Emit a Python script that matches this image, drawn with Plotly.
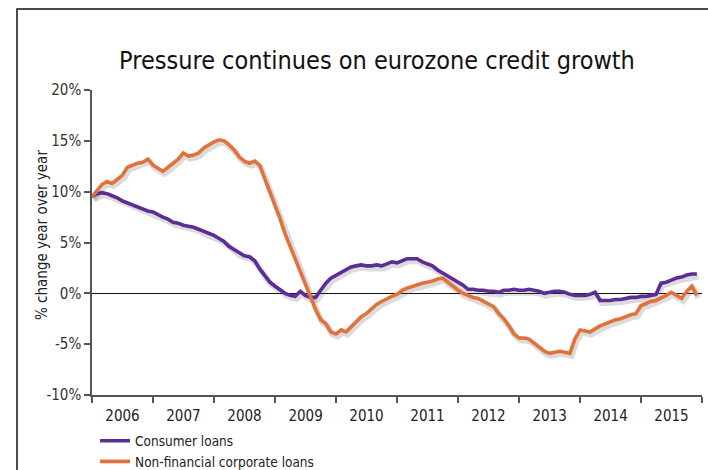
import pandas as pd
import plotly.graph_objects as go

# Monthly year-over-year growth, Jan 2006 - Dec 2015 (%)
months = pd.date_range("2006-01-01", periods=120, freq="MS")

consumer_loans = [
    9.5, 9.8, 9.9, 9.8, 9.6, 9.4, 9.1, 8.9, 8.7, 8.5, 8.3, 8.1,
    8.0, 7.7, 7.5, 7.3, 7.0, 6.9, 6.7, 6.6, 6.5, 6.3, 6.1, 5.9,
    5.7, 5.4, 5.1, 4.6, 4.3, 3.9, 3.7, 3.6, 3.2, 2.4, 1.7, 1.1,
    0.7, 0.3, 0.0, -0.2, -0.3, 0.2, -0.2, -0.4, -0.4, 0.3, 1.0, 1.5,
    1.8, 2.1, 2.3, 2.6, 2.7, 2.8, 2.7, 2.7, 2.8, 2.7, 2.9, 3.1,
    3.0, 3.2, 3.4, 3.4, 3.4, 3.1, 2.9, 2.7, 2.3, 2.0, 1.7, 1.4,
    1.1, 0.8, 0.4, 0.4, 0.3, 0.3, 0.2, 0.2, 0.1, 0.3, 0.3, 0.4,
    0.3, 0.3, 0.4, 0.3, 0.2, 0.0, 0.1, 0.2, 0.2, 0.1, -0.1, -0.2,
    -0.2, -0.2, -0.1, 0.1, -0.7, -0.7, -0.7, -0.6, -0.6, -0.5, -0.4, -0.4,
    -0.3, -0.3, -0.2, -0.1, 1.0, 1.1, 1.3, 1.5, 1.6, 1.8, 1.9, 1.9,
]

corporate_loans = [
    9.5, 10.2, 10.7, 11.0, 10.8, 11.2, 11.6, 12.4, 12.6, 12.8, 12.9, 13.2,
    12.6, 12.3, 12.0, 12.4, 12.8, 13.2, 13.8, 13.5, 13.6, 13.8, 14.3, 14.6,
    14.9, 15.1, 15.0, 14.6, 14.1, 13.4, 13.0, 12.8, 13.0, 12.6, 11.3, 9.8,
    8.6, 7.3, 5.9, 4.6, 3.4, 2.1, 0.9, -0.4, -1.6, -2.6, -3.0, -3.8,
    -4.0, -3.6, -3.8, -3.3, -2.8, -2.3, -2.0, -1.5, -1.1, -0.8, -0.5, -0.3,
    -0.1, 0.3, 0.5, 0.7, 0.8, 1.0, 1.1, 1.2, 1.4, 1.5, 1.1, 0.7,
    0.3, 0.0, -0.2, -0.4, -0.5, -0.8, -1.1, -1.3, -2.0, -2.5, -3.2, -4.0,
    -4.4, -4.4, -4.5, -4.9, -5.3, -5.7, -5.9, -5.8, -5.7, -5.8, -5.9, -4.5,
    -3.6, -3.7, -3.8, -3.5, -3.2, -3.0, -2.8, -2.6, -2.5, -2.3, -2.1, -2.0,
    -1.2, -1.0, -0.8, -0.7, -0.5, -0.2, 0.1, -0.2, -0.5, 0.2, 0.7, -0.2,
]

series_names = ["Consumer loans", "Non-financial corporate loans"]
series_colors = ["#5b2d95", "#e2723b"]

y_tickvals = [-10, -5, 0, 5, 10, 15, 20]
y_ticktext = ["-10%", "-5%", "0%", "5%", "10%", "15%", "20%"]

FONT = "DejaVu Sans Condensed, Liberation Sans Narrow, Roboto, sans-serif"

fig = go.Figure()

# soft drop shadow under each line
shadow_x = months + pd.Timedelta(days=10)
for vals in (corporate_loans, consumer_loans):
    fig.add_trace(go.Scatter(
        x=shadow_x, y=[v - 0.25 for v in vals], mode="lines",
        line=dict(color="rgba(90,90,90,0.22)", width=6),
        hoverinfo="skip", showlegend=False,
    ))

for name, vals, color in zip(series_names, [consumer_loans, corporate_loans], series_colors):
    fig.add_trace(go.Scatter(
        x=months, y=vals, mode="lines", name=name,
        line=dict(color=color, width=3.6),
    ))

fig.update_layout(
    width=708, height=470,
    margin=dict(l=92, r=6, t=90, b=75, autoexpand=False),
    paper_bgcolor="white", plot_bgcolor="white",
    font=dict(family=FONT, size=15, color="#333333"),
    title=dict(
        text="Pressure continues on eurozone credit growth",
        x=377 / 708, xanchor="center", xref="container",
        y=1 - 60 / 470, yanchor="middle", yref="container",
        font=dict(family=FONT, size=25, color="#111111"),
    ),
    showlegend=True,
    legend=dict(
        x=0.005, xanchor="left", y=-0.10, yanchor="top",
        font=dict(family=FONT, size=13.5, color="#222222"),
        itemwidth=30, tracegroupgap=0, bgcolor="rgba(0,0,0,0)",
    ),
    xaxis=dict(
        type="date",
        range=["2006-01-01", "2016-01-01"],
        tick0="2006-01-01", dtick="M12", tickformat="%Y",
        ticklabelmode="period",
        ticks="outside", ticklen=6, tickwidth=1.5, tickcolor="#555555",
        showline=True, linecolor="#555555", linewidth=1.5,
        showgrid=False, zeroline=False,
        tickfont=dict(family=FONT, size=15, color="#222222"),
    ),
    yaxis=dict(
        range=[-10, 20], tickvals=y_tickvals, ticktext=y_ticktext,
        ticks="outside", ticklen=6, tickwidth=1.5, tickcolor="#555555",
        showline=True, linecolor="#555555", linewidth=1.5,
        showgrid=False,
        zeroline=True, zerolinecolor="#111111", zerolinewidth=1,
        tickfont=dict(family=FONT, size=15, color="#333333"),
    ),
    annotations=[dict(
        text="% change year over year", textangle=-90,
        x=(42 - 92) / 610, y=(395 - 235) / 305, xref="paper", yref="paper",
        xanchor="center", yanchor="middle", showarrow=False,
        font=dict(family=FONT, size=15, color="#222222"),
    )],
    shapes=[dict(
        type="rect", xref="paper", yref="paper",
        x0=(17 - 92) / 610, x1=1.2, y0=-0.6, y1=(395 - 9) / 305,
        line=dict(color="#111111", width=1.5), layer="below",
    )],
)

fig.write_html("out.html")
